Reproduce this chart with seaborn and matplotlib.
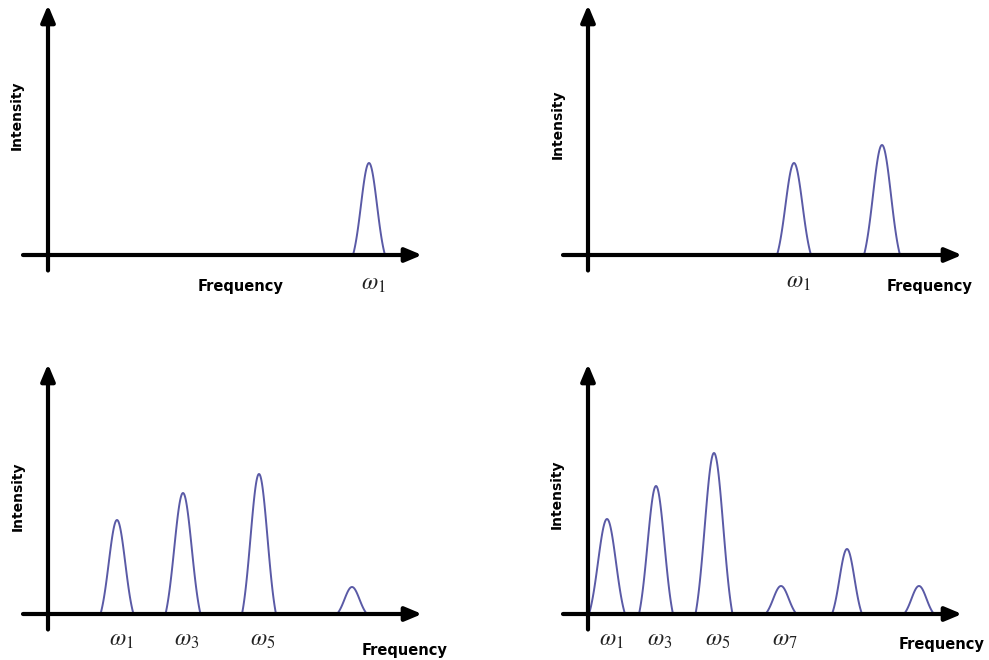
import numpy as np
import pandas as pd
import matplotlib
matplotlib.use("Agg")
import matplotlib.pyplot as plt
import seaborn as sns

# ---- spectral peaks for the four panels (frequency, intensity, half base width) ----
p1_centers = [32.1]
p1_heights = [9.2]
p1_halfwidths = [1.6]
p1_labels = [r"$\omega_1$"]

p2_centers = [20.6, 29.4]
p2_heights = [9.2, 11.0]
p2_halfwidths = [1.7, 1.8]
p2_labels = [r"$\omega_1$", None]

p3_centers = [6.9, 13.5, 21.1, 30.4]
p3_heights = [9.4, 12.1, 14.0, 2.7]
p3_halfwidths = [1.65, 1.75, 1.7, 1.5]
p3_labels = [r"$\omega_1$", r"$\omega_3$", r"$\omega_5$", None]

p4_centers = [1.9, 6.8, 12.6, 19.3, 25.9, 33.1]
p4_heights = [9.5, 12.8, 16.1, 2.8, 6.5, 2.8]
p4_halfwidths = [1.8, 1.7, 1.85, 1.55, 1.5, 1.5]
p4_labels = [r"$\omega_1$", r"$\omega_3$", r"$\omega_5$", r"$\omega_7$", None, None]

x_label = "Frequency"
y_label = "Intensity"

PEAK_COLOR = "#5a5aa6"

sns.set_theme(style="white")
plt.rcParams["font.family"] = ["DejaVu Sans"]
plt.rcParams["mathtext.fontset"] = "stix"


def peak_frame(centers, heights, halfwidths):
    """Bell-shaped line profile for every peak, falling to zero at its base."""
    rows = []
    for i, (c, h, w) in enumerate(zip(centers, heights, halfwidths)):
        x = np.linspace(c - w, c + w, 121)
        s = w / 2.0
        g = np.exp(-0.5 * ((x - c) / s) ** 2)
        g0 = np.exp(-0.5 * (w / s) ** 2)
        y = h * (g - g0) / (1 - g0)
        rows.append(pd.DataFrame({"freq": x, "intensity": y, "peak": i}))
    return pd.concat(rows, ignore_index=True)


fig = plt.figure(figsize=(9.89, 6.6), dpi=100)
W, H = 989, 660

# origin of each panel's axes cross, in figure pixels, plus text placement
panels = [
    dict(origin=(48, 255), centers=p1_centers, heights=p1_heights,
         halfwidths=p1_halfwidths, labels=p1_labels,
         omega_y=-2.8, freq_xy=(19.3, -3.2), int_xy=(-3.1, 14.0)),
    dict(origin=(588, 255), centers=p2_centers, heights=p2_heights,
         halfwidths=p2_halfwidths, labels=p2_labels,
         omega_y=-2.6, freq_xy=(34.2, -3.2), int_xy=(-3.0, 13.1)),
    dict(origin=(48, 614), centers=p3_centers, heights=p3_heights,
         halfwidths=p3_halfwidths, labels=p3_labels,
         omega_y=-2.5, freq_xy=(35.7, -3.6), int_xy=(-3.0, 11.8)),
    dict(origin=(588, 614), centers=p4_centers, heights=p4_heights,
         halfwidths=p4_halfwidths, labels=p4_labels,
         omega_y=-2.5, freq_xy=(35.4, -3.1), int_xy=(-3.1, 12.0)),
]

XLIM = (-4, 40)
YLIM = (-3, 25.5)
PX_PER_UNIT = 10

for p in panels:
    ox, oy = p["origin"]
    left = ox + XLIM[0] * PX_PER_UNIT
    bottom = oy - YLIM[0] * PX_PER_UNIT
    width = (XLIM[1] - XLIM[0]) * PX_PER_UNIT
    height = (YLIM[1] - YLIM[0]) * PX_PER_UNIT
    ax = fig.add_axes([left / W, (H - bottom) / H, width / W, height / H])

    df = peak_frame(p["centers"], p["heights"], p["halfwidths"])
    sns.lineplot(data=df, x="freq", y="intensity", units="peak",
                 estimator=None, sort=False, color=PEAK_COLOR, lw=1.4,
                 ax=ax, zorder=2, legend=False)

    ax.set_xlim(*XLIM)
    ax.set_ylim(*YLIM)
    ax.set_axis_off()

    # axis cross with arrow heads
    arrow = dict(arrowstyle="-|>,head_length=1.0,head_width=0.42",
                 color="black", lw=3, mutation_scale=10,
                 shrinkA=0, shrinkB=0)
    ax.annotate("", xy=(37.4, 0), xytext=(-2.5, 0), arrowprops=arrow,
                zorder=3, annotation_clip=False)
    ax.annotate("", xy=(0, 25.0), xytext=(0, -1.55), arrowprops=arrow,
                zorder=3, annotation_clip=False)

    for c, lab in zip(p["centers"], p["labels"]):
        if lab:
            ax.text(c + 0.4, p["omega_y"], lab, ha="center", va="center",
                    fontsize=17, color="#222222")

    ax.text(*p["freq_xy"], x_label, ha="center", va="center",
            fontsize=10.5, fontweight="bold", color="black")
    ax.text(*p["int_xy"], y_label, ha="center", va="center", rotation=90,
            fontsize=10, fontweight="bold", color="black")

fig.savefig("out.png", dpi=100, facecolor="white")
